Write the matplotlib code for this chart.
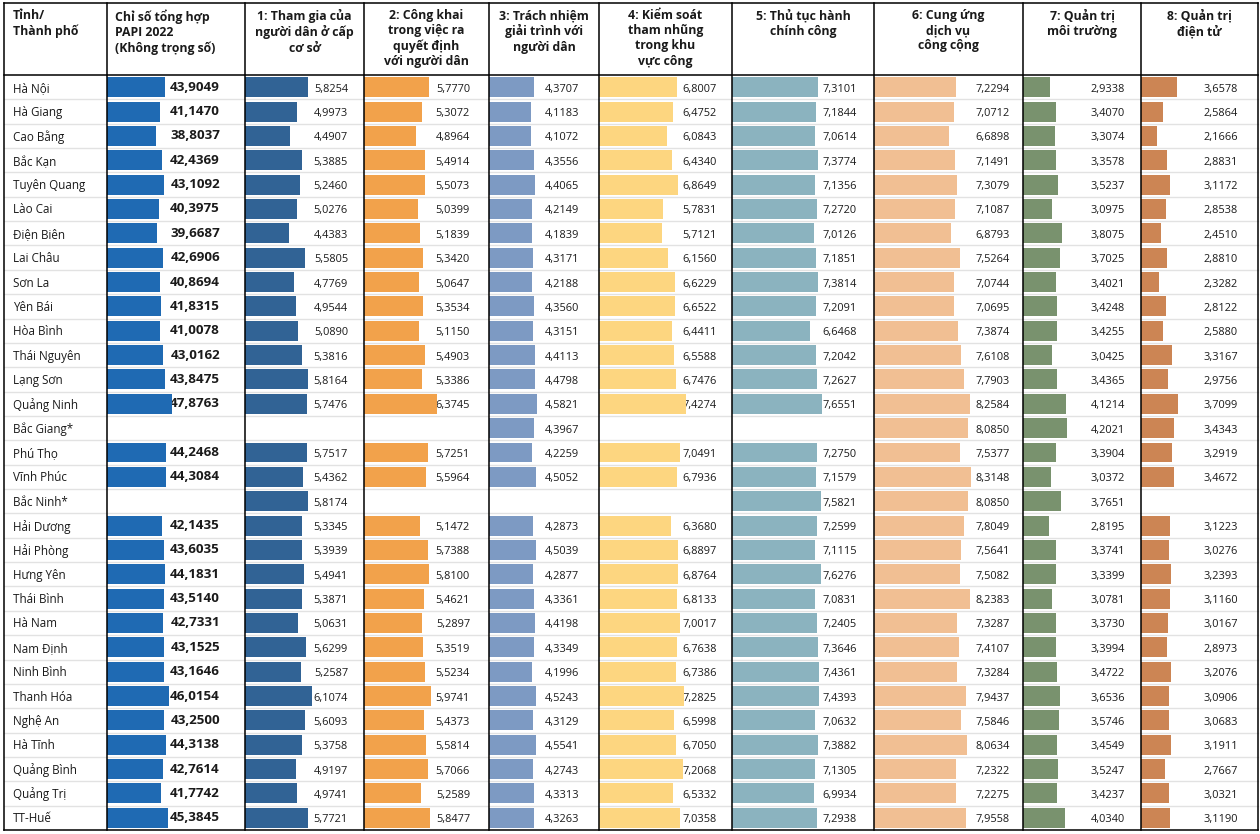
import numpy as np
import matplotlib
matplotlib.use("Agg")
import matplotlib.pyplot as plt

nan = np.nan

provinces = [
    "Hà Nội", "Hà Giang", "Cao Bằng", "Bắc Kạn", "Tuyên Quang", "Lào Cai",
    "Điện Biên", "Lai Châu", "Sơn La", "Yên Bái", "Hòa Bình", "Thái Nguyên",
    "Lạng Sơn", "Quảng Ninh", "Bắc Giang*", "Phú Thọ", "Vĩnh Phúc", "Bắc Ninh*",
    "Hải Dương", "Hải Phòng", "Hưng Yên", "Thái Bình", "Hà Nam", "Nam Định",
    "Ninh Bình", "Thanh Hóa", "Nghệ An", "Hà Tĩnh", "Quảng Bình", "Quảng Trị",
    "TT-Huế",
]

papi = [43.9049, 41.1470, 38.8037, 42.4369, 43.1092, 40.3975, 39.6687, 42.6906,
        40.8694, 41.8315, 41.0078, 43.0162, 43.8475, 47.8763, nan, 44.2468,
        44.3084, nan, 42.1435, 43.6035, 44.1831, 43.5140, 42.7331, 43.1525,
        43.1646, 46.0154, 43.2500, 44.3138, 42.7614, 41.7742, 45.3845]
tham_gia = [5.8254, 4.9973, 4.4907, 5.3885, 5.2460, 5.0276, 4.4383, 5.5805,
            4.7769, 4.9544, 5.0890, 5.3816, 5.8164, 5.7476, nan, 5.7517,
            5.4362, 5.8174, 5.3345, 5.3939, 5.4941, 5.3871, 5.0631, 5.6299,
            5.2587, 6.1074, 5.6093, 5.3758, 4.9197, 4.9741, 5.7721]
cong_khai = [5.7770, 5.3072, 4.8964, 5.4914, 5.5073, 5.0399, 5.1839, 5.3420,
             5.0647, 5.3534, 5.1150, 5.4903, 5.3386, 6.3745, nan, 5.7251,
             5.5964, nan, 5.1472, 5.7388, 5.8100, 5.4621, 5.2897, 5.3519,
             5.5234, 5.9741, 5.4373, 5.5814, 5.7066, 5.2589, 5.8477]
trach_nhiem = [4.3707, 4.1183, 4.1072, 4.3556, 4.4065, 4.2149, 4.1839, 4.3171,
               4.2188, 4.3560, 4.3151, 4.4113, 4.4798, 4.5821, 4.3967, 4.2259,
               4.5052, nan, 4.2873, 4.5039, 4.2877, 4.3361, 4.4198, 4.3349,
               4.1996, 4.5243, 4.3129, 4.5541, 4.2743, 4.3313, 4.3263]
tham_nhung = [6.8007, 6.4752, 6.0843, 6.4340, 6.8649, 5.7831, 5.7121, 6.1560,
              6.6229, 6.6522, 6.4411, 6.5588, 6.7476, 7.4274, nan, 7.0491,
              6.7936, nan, 6.3680, 6.8897, 6.8764, 6.8133, 7.0017, 6.7638,
              6.7386, 7.2825, 6.5998, 6.7050, 7.2068, 6.5332, 7.0358]
thu_tuc = [7.3101, 7.1844, 7.0614, 7.3774, 7.1356, 7.2720, 7.0126, 7.1851,
           7.3814, 7.2091, 6.6468, 7.2042, 7.2627, 7.6551, nan, 7.2750,
           7.1579, 7.5821, 7.2599, 7.1115, 7.6276, 7.0831, 7.2405, 7.3646,
           7.4361, 7.4393, 7.0632, 7.3882, 7.1305, 6.9934, 7.2938]
dich_vu = [7.2294, 7.0712, 6.6898, 7.1491, 7.3079, 7.1087, 6.8793, 7.5264,
           7.0744, 7.0695, 7.3874, 7.6108, 7.7903, 8.2584, 8.0850, 7.5377,
           8.3148, 8.0850, 7.8049, 7.5641, 7.5082, 8.2383, 7.3287, 7.4107,
           7.3284, 7.9437, 7.5846, 8.0634, 7.2322, 7.2275, 7.9558]
moi_truong = [2.9338, 3.4070, 3.3074, 3.3578, 3.5237, 3.0975, 3.8075, 3.7025,
              3.4021, 3.4248, 3.4255, 3.0425, 3.4365, 4.1214, 4.2021, 3.3904,
              3.0372, 3.7651, 2.8195, 3.3741, 3.3399, 3.0781, 3.3730, 3.3994,
              3.4722, 3.6536, 3.5746, 3.4549, 3.5247, 3.4237, 4.0340]
dien_tu = [3.6578, 2.5864, 2.1666, 2.8831, 3.1172, 2.8538, 2.4510, 2.8810,
           2.3282, 2.8122, 2.5880, 3.3167, 2.9756, 3.7099, 3.4343, 3.2919,
           3.4672, nan, 3.1223, 3.0276, 3.2393, 3.1160, 3.0167, 2.8973,
           3.2076, 3.0906, 3.0683, 3.1911, 2.7667, 3.0321, 3.1190]

headers = [
    "Chỉ số tổng hợp\nPAPI 2022\n(Không trọng số)",
    "1: Tham gia của\nngười dân ở cấp\ncơ sở",
    "2: Công khai\ntrong việc ra\nquyết định\nvới người dân",
    "3: Trách nhiệm\ngiải trình với\nngười dân",
    "4: Kiểm soát\ntham nhũng\ntrong khu\nvực công",
    "5: Thủ tục hành\nchính công",
    "6: Cung ứng\ndịch vụ\ncông cộng",
    "7: Quản trị\nmôi trường",
    "8: Quản trị\nđiện tử",
]
colors = ["#1f6ab3", "#316395", "#f2a24b", "#7d9ac3", "#fdd680",
          "#8bb3bf", "#f1bf93", "#79926e", "#cc8554"]

series = [papi, tham_gia, cong_khai, trach_nhiem, tham_nhung,
          thu_tuc, dich_vu, moi_truong, dien_tu]

# layout in pixels
W, H = 1260, 834
edges = [4, 107, 245, 364, 489, 599, 732, 874, 1023, 1141, 1258]
top, head_bottom, bottom = 3, 75, 830
# value at column's left edge and pixels per unit
scales = [(11.0, 1.76), (1.17, 13.6), (1.10, 13.8), (0.70, 12.3), (1.08, 13.65),
          (0.0, 11.7), (1.10, 13.4), (0.93, 13.5), (0.96, 13.35)]
label_pad = [25, 16, 19, 20, 15, 17, 13, 16, 20]

plt.rcParams["font.family"] = ["Open Sans", "DejaVu Sans"]
TXT = "#1a1a1a"
HEAD = dict(fontsize=8.8, weight="bold", color=TXT, linespacing=1.22, va="top")
HEAD_Y = 9

fig = plt.figure(figsize=(W / 100, H / 100), dpi=100)
bg = fig.add_axes([0, 0, 1, 1])
bg.set_xlim(0, W)
bg.set_ylim(H, 0)
bg.axis("off")

n = len(provinces)
rh = (bottom - head_bottom) / n

for k in range(1, n):
    y = head_bottom + k * rh
    bg.plot([edges[0], edges[-1]], [y, y], color="#e2e2e2", lw=1.0)

for i, name in enumerate(provinces):
    bg.text(13, head_bottom + (i + 0.5) * rh + 1, name, ha="left", va="center",
            fontsize=8.4, color=TXT)

bg.text(13, HEAD_Y, "Tỉnh/\nThành phố", ha="left", **HEAD)

def fmt(v):
    return f"{v:.4f}".replace(".", ",")

for j, (vals, color) in enumerate(zip(series, colors)):
    L, R = edges[j + 1], edges[j + 2]
    v0, ppu = scales[j]
    ax = fig.add_axes([L / W, 1 - bottom / H, (R - L) / W, (bottom - head_bottom) / H])
    ax.set_xlim(v0, v0 + (R - L) / ppu)
    ax.set_ylim(n - 0.5, -0.5)
    ax.axis("off")
    arr = np.array(vals, dtype=float)
    ok = ~np.isnan(arr)
    ax.barh(np.arange(n)[ok], arr[ok], height=0.82, color=color)

    bold = j == 0
    for i, v in enumerate(arr):
        if np.isnan(v):
            continue
        y = head_bottom + (i + 0.5) * rh + (0 if bold else 2)
        bg.text(R - label_pad[j], y, fmt(v), ha="right", va="center",
                fontsize=9.6 if bold else 7.9, weight="bold" if bold else "normal",
                color=TXT, zorder=5)

    if j == 0:
        bg.text(L + 8, HEAD_Y, headers[j], ha="left", **HEAD)
    else:
        bg.text((L + R) / 2, HEAD_Y, headers[j], ha="center", multialignment="center", **HEAD)

# borders on top of everything
ov = fig.add_axes([0, 0, 1, 1])
ov.set_xlim(0, W)
ov.set_ylim(H, 0)
ov.axis("off")
ov.patch.set_visible(False)
for x in edges:
    ov.plot([x, x], [top, bottom], color="black", lw=1.1)
for y in (top, head_bottom, bottom):
    ov.plot([edges[0], edges[-1]], [y, y], color="black", lw=1.1)

fig.savefig("out.png", dpi=100)
